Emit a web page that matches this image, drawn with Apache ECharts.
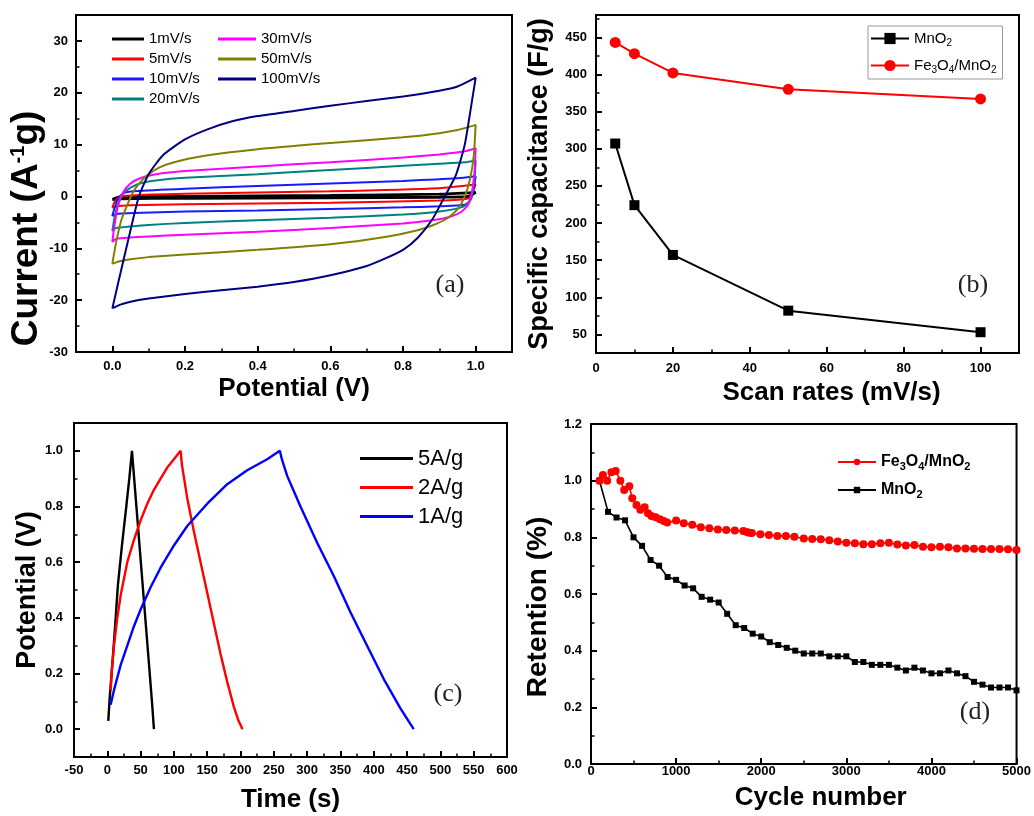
<!DOCTYPE html>
<html>
<head>
<meta charset="utf-8">
<script src="https://cdn.jsdelivr.net/npm/echarts@6/dist/echarts.min.js"></script>
<style>html,body{margin:0;padding:0;background:#fff;}#c{width:1034px;height:816px;}</style>
</head>
<body>
<div id="c"></div>
<script>
// ---------- (a) CV curves: [potential V, current A/g], loop (anodic then cathodic) ----------
const cvNames = ['1mV/s','5mV/s','10mV/s','20mV/s','30mV/s','50mV/s','100mV/s'];
const cv1 = [[0,-0.6],[0.02,-0.1],[0.2,0.0],[0.6,0.2],[0.9,0.45],[1.0,0.8],[0.98,0.0],[0.9,-0.15],[0.6,-0.25],[0.2,-0.35],[0.02,-0.45],[0,-0.6]];
const cv5 = [[0,-2.2],[0.005,-1.2],[0.02,-0.1],[0.05,0.2],[0.2,0.5],[0.6,1.0],[0.9,1.6],[1.0,2.3],[0.99,0.5],[0.98,-0.4],[0.9,-0.8],[0.6,-1.2],[0.2,-1.5],[0.05,-1.7],[0.01,-1.9],[0,-2.2]];
const cv10 = [[0,-3.8],[0.005,-2.5],[0.015,-0.5],[0.03,0.6],[0.06,1.0],[0.2,1.5],[0.4,2.0],[0.6,2.5],[0.8,3.0],[0.95,3.5],[1.0,3.9],[0.995,1.5],[0.985,-0.8],[0.97,-1.6],[0.9,-1.9],[0.8,-2.1],[0.6,-2.4],[0.4,-2.7],[0.2,-2.9],[0.06,-3.2],[0.01,-3.4],[0,-3.8]];
const cv20 = [[0,-6.7],[0.005,-4.5],[0.015,-1.5],[0.03,0.6],[0.05,1.7],[0.08,2.6],[0.12,3.1],[0.2,3.6],[0.4,4.3],[0.6,5.1],[0.8,5.9],[0.9,6.3],[0.97,6.6],[1.0,6.9],[0.997,3.5],[0.99,0.5],[0.98,-1.2],[0.96,-2.1],[0.9,-2.9],[0.8,-3.5],[0.6,-4.1],[0.4,-4.6],[0.2,-5.1],[0.1,-5.5],[0.05,-5.8],[0.01,-6.1],[0,-6.7]];
const cv30 = [[0,-8.8],[0.005,-6],[0.015,-2],[0.03,0.8],[0.05,2.5],[0.08,3.6],[0.12,4.3],[0.2,4.9],[0.4,5.8],[0.6,6.6],[0.8,7.5],[0.9,8.1],[0.97,8.7],[1.0,9.3],[0.997,5],[0.99,1],[0.98,-1.5],[0.96,-3],[0.93,-3.9],[0.88,-4.6],[0.8,-5.2],[0.6,-6.1],[0.4,-6.8],[0.2,-7.4],[0.1,-7.7],[0.05,-7.9],[0.01,-8.2],[0,-8.8]];
const cv50 = [[0,-13],[0.01,-9],[0.025,-4.5],[0.045,-1],[0.06,1.2],[0.08,3.0],[0.1,4.3],[0.13,5.6],[0.17,6.6],[0.25,7.8],[0.4,9.1],[0.6,10.3],[0.8,11.4],[0.9,12.2],[0.95,12.8],[1.0,13.8],[0.995,8],[0.985,3.5],[0.97,0],[0.95,-2.5],[0.92,-4.3],[0.88,-5.6],[0.84,-6.5],[0.75,-7.8],[0.6,-9.2],[0.4,-10.3],[0.2,-11.2],[0.1,-11.7],[0.05,-12.1],[0.02,-12.5],[0,-13]];
const cv100 = [[0,-21.6],[0.015,-17],[0.03,-12.5],[0.05,-6.5],[0.073,0],[0.1,4.3],[0.14,8],[0.2,11],[0.26,12.9],[0.33,14.5],[0.4,15.5],[0.5,16.5],[0.6,17.5],[0.7,18.4],[0.8,19.3],[0.9,20.4],[0.95,21.2],[1.0,22.9],[0.99,18.5],[0.97,10],[0.945,4],[0.915,0],[0.88,-4.5],[0.84,-8],[0.8,-10.3],[0.75,-12],[0.7,-13.4],[0.6,-15.2],[0.5,-16.5],[0.4,-17.4],[0.3,-18.1],[0.2,-18.8],[0.1,-19.7],[0.05,-20.3],[0.02,-20.9],[0,-21.6]];
const cvColors = ['#000000','#ff0000','#1a1aff','#008080','#ff00ff','#808000','#000080'];

// ---------- (b) specific capacitance ----------
const scanRates = [5, 10, 20, 50, 100];
const capMnO2 = [307, 224, 157, 82, 53];
const capFeMn = [443, 428, 402, 380, 367];

// ---------- (c) GCD: [time s, potential V] ----------
const gcdNames = ['5A/g','2A/g','1A/g'];
const gcd5 = [[1.5,0.03],[3.5,0.11],[7.5,0.23],[12,0.38],[16,0.52],[22,0.66],[28.5,0.8],[33,0.9],[37,1.0],[45,0.76],[55,0.46],[63,0.22],[67,0.1],[70,0.0]];
const gcd2 = [[5,0.14],[7,0.22],[10,0.3],[15,0.4],[20,0.48],[30,0.6],[40,0.68],[50,0.75],[60,0.81],[70,0.86],[80,0.9],[90,0.94],[100,0.97],[110,1.0],[112,0.95],[120,0.83],[130,0.71],[140,0.6],[150,0.49],[160,0.38],[170,0.27],[180,0.17],[190,0.08],[197,0.03],[203,0.0]];
const gcd1 = [[5,0.088],[10,0.14],[20,0.23],[30,0.3],[40,0.37],[50,0.43],[65,0.51],[80,0.58],[100,0.66],[120,0.73],[150,0.81],[180,0.88],[210,0.93],[240,0.97],[259,1.0],[262,0.97],[270,0.91],[290,0.8],[315,0.67],[340,0.55],[365,0.42],[390,0.3],[415,0.18],[440,0.075],[452,0.03],[460,0.0]];
const gcdColors = ['#000000','#ff0000','#0000ff'];

// ---------- (d) cycling retention ----------
const cycFe = [100,140,190,240,290,345,390,450,485,535,580,630,670,710,760,810,855,895,1000,1090,1190,1290,1390,1490,1590,1690,1790,1830,1860,1890,1990,2090,2190,2290,2390,2500,2600,2700,2800,2900,3000,3100,3200,3300,3400,3500,3600,3700,3800,3900,4000,4100,4200,4300,4400,4500,4600,4700,4800,4900,5000];
const retFe = [1.0,1.02,1.0,1.03,1.034,1.0,0.967,0.98,0.938,0.914,0.897,0.906,0.885,0.875,0.871,0.864,0.858,0.852,0.859,0.85,0.844,0.836,0.832,0.828,0.826,0.824,0.822,0.819,0.816,0.815,0.811,0.808,0.805,0.805,0.802,0.796,0.794,0.793,0.79,0.785,0.781,0.779,0.776,0.776,0.779,0.781,0.775,0.771,0.773,0.767,0.765,0.767,0.765,0.761,0.761,0.76,0.759,0.759,0.759,0.758,0.755];
const cycMn = [100,200,300,400,500,600,700,800,900,1000,1100,1200,1300,1400,1500,1600,1700,1800,1900,2000,2100,2200,2300,2400,2500,2600,2700,2800,2900,3000,3100,3200,3300,3400,3500,3600,3700,3800,3900,4000,4100,4200,4300,4400,4500,4600,4700,4800,4900,5000];
const retMn = [1.0,0.89,0.87,0.86,0.80,0.77,0.72,0.70,0.66,0.65,0.63,0.62,0.59,0.58,0.57,0.53,0.49,0.48,0.46,0.45,0.43,0.42,0.41,0.40,0.39,0.39,0.39,0.38,0.38,0.38,0.36,0.36,0.35,0.35,0.35,0.34,0.33,0.34,0.33,0.32,0.32,0.33,0.32,0.31,0.29,0.28,0.27,0.27,0.27,0.26];

// ---------- tick labels ----------
const aXTicks = [0, 0.2, 0.4, 0.6, 0.8, 1.0];
const aYTicks = [-30, -20, -10, 0, 10, 20, 30];
const bXTicks = [0, 20, 40, 60, 80, 100];
const bYTicks = [50, 100, 150, 200, 250, 300, 350, 400, 450];
const cXTicks = [-50, 0, 50, 100, 150, 200, 250, 300, 350, 400, 450, 500, 550, 600];
const cYTicks = [0, 0.2, 0.4, 0.6, 0.8, 1.0];
const dXTicks = [0, 1000, 2000, 3000, 4000, 5000];
const dYTicks = [0, 0.2, 0.4, 0.6, 0.8, 1.0, 1.2];

const FONT = "'Liberation Sans', Arial, sans-serif";
const f1 = v => v.toFixed(1);
const f0 = v => String(Math.round(v));

// main value axis (line + labels), minor-tick value axis, major-tick category overlay
function axisSet(dim, gridIndex, min, max, majors, minorStep, catStep, fmt, margin, nameCfg) {
  const pos = dim === 'x' ? 'bottom' : 'left';
  const main = Object.assign({
    type: 'value', gridIndex, min, max, position: pos,
    axisLine: {show: true, onZero: false, lineStyle: {color: '#000', width: 2}},
    axisTick: {show: false},
    axisLabel: {show: true, customValues: majors, formatter: fmt, color: '#000', fontFamily: FONT, fontWeight: 'bold', fontSize: 13, margin},
    splitLine: {show: false}
  }, nameCfg);
  const minor = {
    type: 'value', gridIndex, min, max, interval: minorStep, position: pos,
    axisLine: {show: false, onZero: false},
    axisTick: {show: true, inside: true, length: 3.5, lineStyle: {color: '#000', width: 1.5}},
    axisLabel: {show: false}, splitLine: {show: false}
  };
  const n = Math.round((max - min) / catStep);
  const cats = [];
  for (let i = 0; i <= n; i++) cats.push(String(+(min + i * catStep).toFixed(6)));
  const isMajor = (i, v) => majors.some(m => Math.abs(m - Number(v)) < catStep * 1e-3);
  const major = {
    type: 'category', gridIndex, position: pos, boundaryGap: false, data: cats,
    axisLine: {show: false, onZero: false},
    axisTick: {show: true, inside: true, length: 6, interval: isMajor, lineStyle: {color: '#000', width: 2}},
    axisLabel: {show: false}, splitLine: {show: false}
  };
  return [main, minor, major];
}
function nm(name, gap, size, padding, rich) {
  const o = {name, nameLocation: 'middle', nameGap: gap,
    nameTextStyle: {fontFamily: FONT, fontWeight: 'bold', fontSize: size, color: '#000'}};
  if (padding) o.nameTextStyle.padding = padding;
  if (rich) o.nameTextStyle.rich = rich;
  return o;
}
const subFmt = n => n.replace(/(\d)/g, '{s|$1}');

const xAxis = [].concat(
  axisSet('x', 0, -0.1, 1.1, aXTicks, 0.1, 0.1, f1, 8, nm('Potential (V)', 24, 26)),
  axisSet('x', 1, 0, 110, bXTicks, 10, 10, f0, 9, nm('Scan rates (mV/s)', 27, 26, [0, 0, 0, 48])),
  axisSet('x', 2, -50, 600, cXTicks, 25, 25, f0, 7, nm('Time (s)', 30, 26)),
  axisSet('x', 3, 0, 5000, dXTicks, 500, 500, f0, 1, nm('Cycle number', 21, 26, [0, 0, 0, 34]))
);
const yAxis = [].concat(
  axisSet('y', 0, -30, 35, aYTicks, 5, 5, f0, 8, nm('Current (A{sup|-1}g)', 28, 37, [0, 90, 0, 0],
     {sup: {fontSize: 20, fontWeight: 'bold', fontFamily: FONT, color: '#000', verticalAlign: 'top', lineHeight: 18}})),
  axisSet('y', 1, 25, 480, bYTicks, 25, 5, f0, 9, nm('Specific capacitance (F/g)', 43, 27)),
  axisSet('y', 2, -0.1, 1.1, cYTicks, 0.1, 0.1, f1, 11, nm('Potential (V)', 32, 27)),
  axisSet('y', 3, 0, 1.2, dYTicks, 0.1, 0.1, f1, 9, nm('Retention (%)', 39, 28, [0, 26, 0, 0]))
);

const series = [];
const cvData = [cv1, cv5, cv10, cv20, cv30, cv50, cv100];
cvNames.forEach((n, i) => series.push({
  name: n, type: 'line', xAxisIndex: 0, yAxisIndex: 0, data: cvData[i], smooth: 0.2,
  symbol: 'none', lineStyle: {color: cvColors[i], width: i === 0 ? 2.8 : 2}, itemStyle: {color: cvColors[i]}
}));
series.push({name: 'MnO2', type: 'line', xAxisIndex: 3, yAxisIndex: 3,
  data: scanRates.map((x, i) => [x, capMnO2[i]]), symbol: 'rect', symbolSize: 10,
  lineStyle: {color: '#000', width: 2}, itemStyle: {color: '#000'}});
series.push({name: 'Fe3O4/MnO2', type: 'line', xAxisIndex: 3, yAxisIndex: 3,
  data: scanRates.map((x, i) => [x, capFeMn[i]]), symbol: 'circle', symbolSize: 11,
  lineStyle: {color: '#ff0000', width: 2}, itemStyle: {color: '#ff0000'}});
const gcdData = [gcd5, gcd2, gcd1];
gcdNames.forEach((n, i) => series.push({
  name: n, type: 'line', xAxisIndex: 6, yAxisIndex: 6, data: gcdData[i],
  symbol: 'none', lineStyle: {color: gcdColors[i], width: 2.4}, itemStyle: {color: gcdColors[i]}
}));
series.push({name: 'MnO2', type: 'line', xAxisIndex: 9, yAxisIndex: 9,
  data: cycMn.map((x, i) => [x, retMn[i]]), symbol: 'rect', symbolSize: 6,
  lineStyle: {color: '#000', width: 1.6}, itemStyle: {color: '#000'}});
series.push({name: 'Fe3O4/MnO2', type: 'line', xAxisIndex: 9, yAxisIndex: 9,
  data: cycFe.map((x, i) => [x, retFe[i]]), symbol: 'circle', symbolSize: 8,
  lineStyle: {color: '#ff0000', width: 1.6}, itemStyle: {color: '#ff0000'}});

const gridBase = {show: true, borderColor: '#000', borderWidth: 2, backgroundColor: 'transparent'};
const grid = [
  Object.assign({left: 76, top: 15, width: 436, height: 337}, gridBase),
  Object.assign({left: 596, top: 15, width: 423, height: 338}, gridBase),
  Object.assign({left: 74, top: 423, width: 433, height: 334}, gridBase),
  Object.assign({left: 591, top: 424, width: 427, height: 340}, gridBase)
];

const legBase = {orient: 'vertical', padding: 0, itemGap: 4, icon: 'rect', itemHeight: 3,
  textStyle: {fontFamily: FONT, fontSize: 15, color: '#000', lineHeight: 16}};
const subRich = (sz, bold) => ({s: {fontSize: sz, fontFamily: FONT, fontWeight: bold ? 'bold' : 'normal', color: '#000', verticalAlign: 'bottom', lineHeight: sz}});
const legend = [
  Object.assign({}, legBase, {data: cvNames.slice(0, 4), left: 112, top: 31, itemWidth: 32}),
  Object.assign({}, legBase, {data: cvNames.slice(4), left: 218, top: 31, itemWidth: 38}),
  {data: ['MnO2', 'Fe3O4/MnO2'], orient: 'vertical', left: 868, top: 26, itemWidth: 38, itemHeight: 14, itemGap: 8,
   padding: [3, 6, 4, 2], borderColor: '#999', borderWidth: 1, formatter: subFmt,
   textStyle: {fontFamily: FONT, fontSize: 15, color: '#000', lineHeight: 19, rich: subRich(10, false)}},
  {data: gcdNames, orient: 'vertical', left: 360, top: 447, padding: 0, itemGap: 6, icon: 'rect', itemHeight: 3, itemWidth: 53,
   textStyle: {fontFamily: FONT, fontSize: 22, color: '#000', lineHeight: 23}},
  {data: ['Fe3O4/MnO2', 'MnO2'], orient: 'vertical', left: 837, top: 452, itemWidth: 38, itemHeight: 8, itemGap: 8,
   padding: 0, formatter: subFmt,
   textStyle: {fontFamily: FONT, fontSize: 16, fontWeight: 'bold', color: '#000', lineHeight: 20, rich: subRich(11, true)}}
];

const lab = (t, x, y) => ({type: 'text', x, y, z: 100,
  style: {text: t, font: "26px 'Liberation Serif', 'Times New Roman', serif", fill: '#222', textAlign: 'center', textVerticalAlign: 'middle'}});
const graphic = [lab('(a)', 450, 285), lab('(b)', 973, 285), lab('(c)', 448, 694), lab('(d)', 975, 712)];

const chart = echarts.init(document.getElementById('c'), null, {renderer: 'canvas'});
chart.setOption({animation: false, backgroundColor: '#fff', grid, xAxis, yAxis, series, legend, graphic});
</script>
</body>
</html>
